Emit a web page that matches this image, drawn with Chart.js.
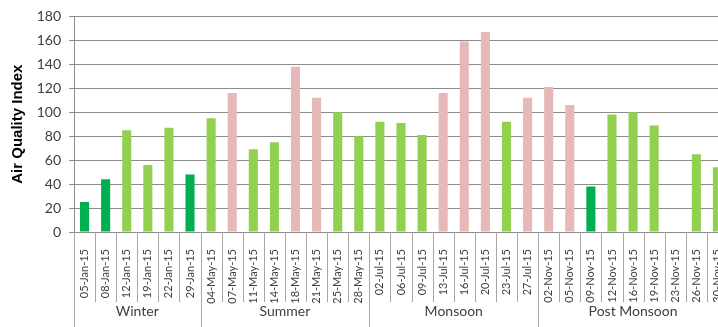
<!DOCTYPE html>
<html>
<head>
<meta charset="utf-8">
<script src="https://cdn.jsdelivr.net/npm/chart.js@4"></script>
<style>
  html, body { margin: 0; padding: 0; background: #fff; overflow: hidden; }
  #box { width: 740px; height: 327px; }
</style>
</head>
<body>
<div id="box"><canvas id="graphique-aqi" width="740" height="327"></canvas></div>
<script>
// Dates de mesure (axe des catégories)
const dates = [
    "05-Jan-15", "08-Jan-15", "12-Jan-15", "19-Jan-15", "22-Jan-15", "29-Jan-15",
    "04-May-15", "07-May-15", "11-May-15", "14-May-15", "18-May-15", "21-May-15", "25-May-15", "28-May-15",
    "02-Jul-15", "06-Jul-15", "09-Jul-15", "13-Jul-15", "16-Jul-15", "20-Jul-15", "23-Jul-15", "27-Jul-15",
    "02-Nov-15", "05-Nov-15", "09-Nov-15", "12-Nov-15", "16-Nov-15", "19-Nov-15", "23-Nov-15", "26-Nov-15", "30-Nov-15"
];
// Valeurs de l'indice (null = pas de mesure)
const aqi = [
    25, 44, 85, 56, 87, 48,
    95, 116, 69, 75, 138, 112, 100, 80,
    92, 91, 81, 116, 159, 167, 92, 112,
    121, 106, 38, 98, 100, 89, null, 65, 54
];
// Saisons (second niveau de l'axe)
const saisons = ["Winter", "Summer", "Monsoon", "Post Monsoon"];
const nbParSaison = [6, 8, 8, 9];
const yTicks = [0, 20, 40, 60, 80, 100, 120, 140, 160, 180];

// couleur selon la classe AQI
function couleurAqi(v) {
    if (v === null) return "rgba(0,0,0,0)";
    if (v <= 50) return "#00B050";
    if (v <= 100) return "#92D050";
    return "#E6B9B8";
}

const police = "Lato, 'Open Sans', sans-serif";

// dessin des séparateurs et des saisons sous l'axe
const saisonsPlugin = {
    id: "saisons",
    afterDraw(chart) {
        const ctx = chart.ctx;
        const x = chart.scales.x;
        const y0 = chart.chartArea.bottom;
        const pas = x.getPixelForValue(1) - x.getPixelForValue(0);
        ctx.save();
        ctx.strokeStyle = "#a6a6a6";
        ctx.lineWidth = 1;
        // petits traits entre les dates
        for (let i = 1; i < dates.length; i++) {
            const xb = Math.round(x.getPixelForValue(i) - pas / 2) + 0.5;
            ctx.beginPath();
            ctx.moveTo(xb, y0);
            ctx.lineTo(xb, y0 + 70);
            ctx.stroke();
        }
        // grands traits entre les saisons + libellés
        let debut = 0;
        ctx.fillStyle = "#404040";
        ctx.font = "14px " + police;
        ctx.textAlign = "center";
        ctx.textBaseline = "middle";
        for (let s = 0; s <= saisons.length; s++) {
            const xb = Math.round(x.getPixelForValue(debut) - pas / 2) + 0.5;
            ctx.beginPath();
            ctx.moveTo(xb, y0);
            ctx.lineTo(xb, chart.height);
            ctx.stroke();
            if (s < saisons.length) {
                const fin = debut + nbParSaison[s];
                const xc = (x.getPixelForValue(debut) + x.getPixelForValue(fin - 1)) / 2;
                ctx.fillText(saisons[s], xc, y0 + 79);
                debut = fin;
            }
        }
        ctx.restore();
    }
};

const data = {
    labels: dates,
    datasets: [{
        label: "Air Quality Index",
        data: aqi,
        backgroundColor: aqi.map(couleurAqi),
        barPercentage: 0.43,
        categoryPercentage: 1.0,
    }],
};

const config = {
    type: "bar",
    data: data,
    options: {
        responsive: false,
        animation: false,
        layout: { padding: { top: 15, right: 12, left: 0, bottom: 0 } },
        plugins: {
            legend: { display: false },
            tooltip: { enabled: false },
        },
        scales: {
            x: {
                grid: { display: false },
                border: { display: true, color: "#8c8c8c", width: 1 },
                ticks: {
                    autoSkip: false,
                    minRotation: 90,
                    maxRotation: 90,
                    padding: 9,
                    color: "#404040",
                    font: { family: police, size: 11 },
                },
                afterFit(scale) { scale.height = 95; },
            },
            y: {
                min: 0,
                max: 180,
                afterBuildTicks(scale) { scale.ticks = yTicks.map(v => ({ value: v })); },
                grid: { color: "#8c8c8c", lineWidth: 1, tickLength: 5 },
                border: { display: true, color: "#8c8c8c", width: 1 },
                ticks: {
                    padding: 8,
                    color: "#404040",
                    font: { family: police, size: 14 },
                },
                title: {
                    display: true,
                    text: "Air Quality Index",
                    color: "#000",
                    font: { family: "'Liberation Sans', Arial, sans-serif", size: 15, weight: "bold" },
                    padding: { top: 9, bottom: 0 },
                },
                afterFit(scale) { scale.width = 74; },
            },
        },
    },
    plugins: [saisonsPlugin],
};

new Chart(document.querySelector("#graphique-aqi"), config);
</script>
</body>
</html>
